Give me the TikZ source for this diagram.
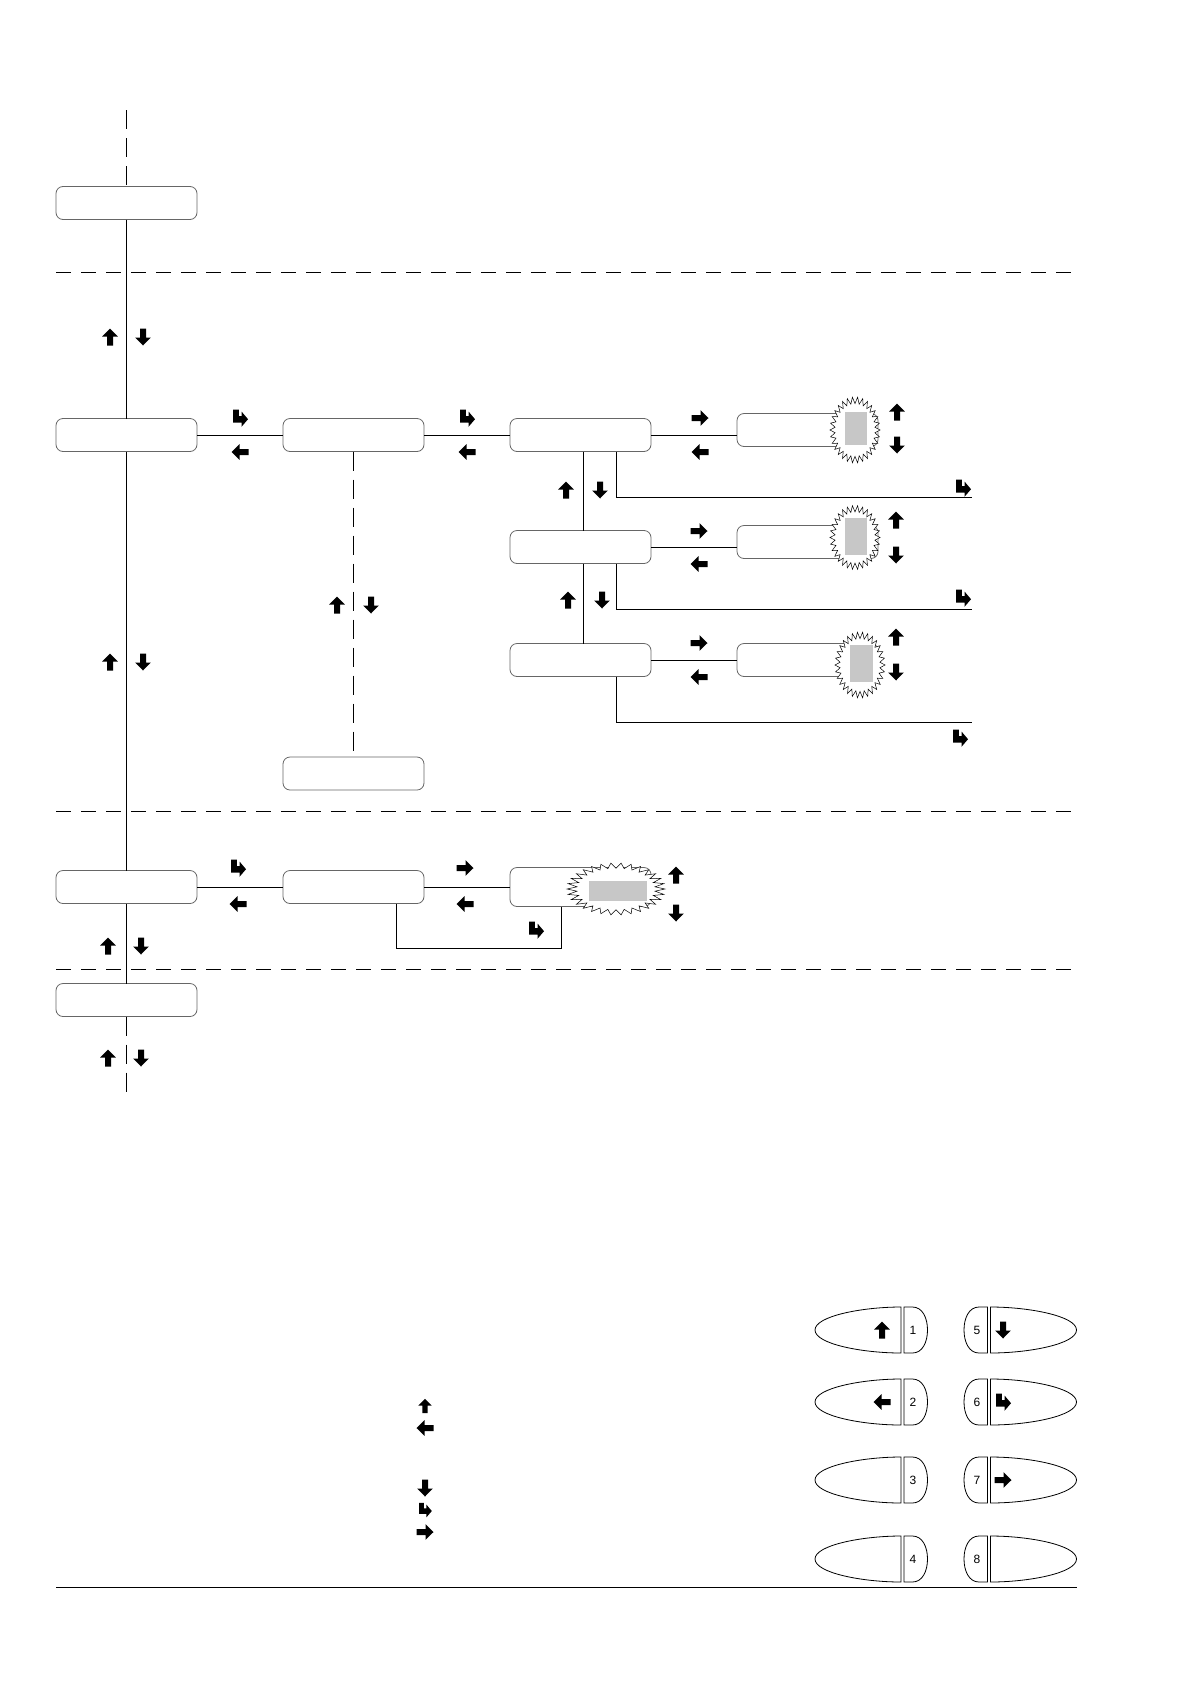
\documentclass[tikz,border=0pt]{standalone}
\usepackage{fontspec}
\setmainfont{Liberation Sans}
\usetikzlibrary{positioning, calc}

\begin{document}
\begin{tikzpicture}[x=1pt, y=-1pt,%
  menu/.style={rectangle, draw=black!60, line width=0.8pt, rounded corners=7pt, minimum width=141pt, minimum height=33pt, inner sep=0pt, outer sep=0pt},%
  field/.style={rectangle, fill=black!22, inner sep=0pt},%
  link/.style={draw=black, line width=0.9pt},%
  gap/.style={link, dash pattern=on 19pt off 9pt},%
  divider/.style={draw=black, line width=0.9pt, dash pattern=on 15pt off 10pt},%
  keynum/.style={font=\fontsize{12}{14}\selectfont, inner sep=0pt},%
  kup/.pic={\fill (0,-8.5) -- (7.8,-0.5) -- (3,-0.5) -- (3,8.5) -- (-3,8.5) -- (-3,-0.5) -- (-7.8,-0.5) -- cycle;},%
  kdown/.pic={\pic[rotate=180]{kup};},%
  kleft/.pic={\pic[rotate=90]{kup};},%
  kright/.pic={\pic[rotate=-90]{kup};},%
  kret/.pic={\fill (-7,-8.5) -- (-1.2,-8.5) -- (-1.2,-2) -- (1.5,-2) -- (1.5,-6.5) -- (8,1.2) -- (1.5,8.8) -- (1.5,4.5) -- (-7,4.5) -- cycle;},%
  burst/.pic={\draw[fill=white, line width=0.5pt] plot[samples at={0,...,59}, variable=\k] ({(1-0.2*mod(\k,2))*cos(6*\k)}, {(1-0.2*mod(\k,2))*sin(6*\k)}) -- cycle;},%
  pad/.pic={\draw[line width=0.8pt] (-1.5,-23) -- (-1.5,23) .. controls (-40,23) and (-87.5,14) .. (-87.5,0) .. controls (-87.5,-14) and (-40,-23) .. (-1.5,-23) -- cycle;
    \draw[line width=0.8pt] (1.5,-23) -- (1.5,23) -- (10,23) .. controls (20,23) and (25,12) .. (25,0) .. controls (25,-12) and (20,-23) .. (10,-23) -- cycle;}%
]
  \useasboundingbox (0,0) rectangle (1190,1684);

  % separators
  \draw[divider] (56,272) -- (1076,272);
  \draw[divider] (56,811) -- (1076,811);
  \draw[divider] (56,969) -- (1076,969);

  % menus
  \coordinate (entry) at (126.5,110);
  \node[menu] (top) at (126.5,203) {};
  \node[menu] (m1) at (126.5,435) {};
  \node[menu, right=86pt of m1] (m2) {};
  \node[menu, right=86pt of m2] (m3) {};
  \node[menu, right=86pt of m3, yshift=5pt] (d1) {};
  \node[menu] (m5) at (580.5,547) {};
  \node[menu, right=86pt of m5, yshift=5pt] (d2) {};
  \node[menu] (m7) at (580.5,660) {};
  \node[menu, right=86pt of m7] (d3) {};
  \node[menu] (m9) at (353.5,773.5) {};
  \node[menu] (m10) at (126.5,887) {};
  \node[menu, right=86pt of m10] (m11) {};
  \node[menu, right=86pt of m11, minimum height=39pt] (d4) {};
  \node[menu] (m13) at (126.5,1000) {};
  \coordinate (exit) at (126.5,1094);
  \coordinate (o1) at (972,497);
  \coordinate (o2) at (972,609);
  \coordinate (o3) at (972,722);

  % connectors
  \draw[gap] (entry) -- (top);
  \draw[link] (top) -- (m1);
  \draw[link] (m1) -- (m10);
  \draw[link] (m10) -- (m13);
  \draw[gap] (m13) -- (exit);
  \draw[link] (m1) -- (m2);
  \draw[link] (m2) -- (m3);
  \draw[link] (m3.east) -- (m3.east -| d1.west);
  \draw[gap] (m2) -- (m9);
  \draw[link] ([xshift=3pt]m3.south) -- ([xshift=3pt]m5.north);
  \draw[link] ([xshift=3pt]m5.south) -- ([xshift=3pt]m7.north);
  \draw[link] (m5.east) -- (m5.east -| d2.west);
  \draw[link] (m7.east) -- (m7.east -| d3.west);
  \draw[link] ([xshift=35.5pt]m3.south) |- (o1);
  \draw[link] ([xshift=35.5pt]m5.south) |- (o2);
  \draw[link] ([xshift=35.5pt]m7.south) |- (o3);
  \draw[link] (m10) -- (m11);
  \draw[link] (m11.east) -- (m11.east -| d4.west);
  \draw[link] ([xshift=42.5pt]m11.south) -- ++(0,45) -| ([xshift=-19.5pt]d4.south);

  % blinking fields
  \pic[xscale=25, yscale=33] at (855,430) {burst};
  \node[field, minimum width=22pt, minimum height=33pt] (v1) at (856,428.5) {};
  \pic[xscale=25, yscale=32] at (855,537.5) {burst};
  \node[field, minimum width=22pt, minimum height=37pt] (v2) at (856,536.5) {};
  \pic[xscale=25, yscale=33] at (860,665) {burst};
  \node[field, minimum width=23pt, minimum height=37pt] (v3) at (861.5,663.5) {};
  \pic[xscale=49, yscale=26] at (616,889) {burst};
  \node[field, minimum width=58pt, minimum height=20pt] (v4) at (618,891) {};

  % keys
  \foreach \x/\y in {110/337, 110/662, 108/946, 108/1058, 566/490, 568/600, 337/605, 897/412, 896/520, 896/637, 676/875, 882/1330}
    \pic at (\x,\y) {kup};
  \foreach \x/\y in {143/337, 143/662, 141/946, 141/1058, 600/490, 602/600, 371/605, 897/445, 896/555, 896/672, 676/913, 1003/1330}
    \pic at (\x,\y) {kdown};
  \foreach \x/\y in {240/452, 467/452, 700/452, 699/564, 699/677, 238/904, 465/904, 882/1402}
    \pic at (\x,\y) {kleft};
  \foreach \x/\y in {700/418, 699/531, 699/643, 465/868, 1003/1480}
    \pic at (\x,\y) {kright};
  \foreach \x/\y in {240/418, 467/418, 238/868, 963/488, 963/598, 960/738, 536/930, 1003/1402}
    \pic at (\x,\y) {kret};

  % legend
  \pic[scale=0.85] at (425,1406) {kup};
  \pic[scale=0.85] at (425,1428) {kleft};
  \pic[scale=0.85] at (425,1488) {kdown};
  \pic[scale=0.85] at (425,1510) {kret};
  \pic[scale=0.85] at (425,1532) {kright};

  % keypad
  \foreach \y/\n in {1330/1, 1402/2, 1480/3, 1559/4} {
    \pic at (902.5,\y) {pad};
    \node[keynum] (k\n) at (913,\y) {\n};
  }
  \foreach \y/\n in {1330/5, 1402/6, 1480/7, 1559/8} {
    \pic[xscale=-1] at (989,\y) {pad};
    \node[keynum] (k\n) at (977,\y) {\n};
  }
  \draw[link] (56,1587) -- (1077,1587);
\end{tikzpicture}
\end{document}
